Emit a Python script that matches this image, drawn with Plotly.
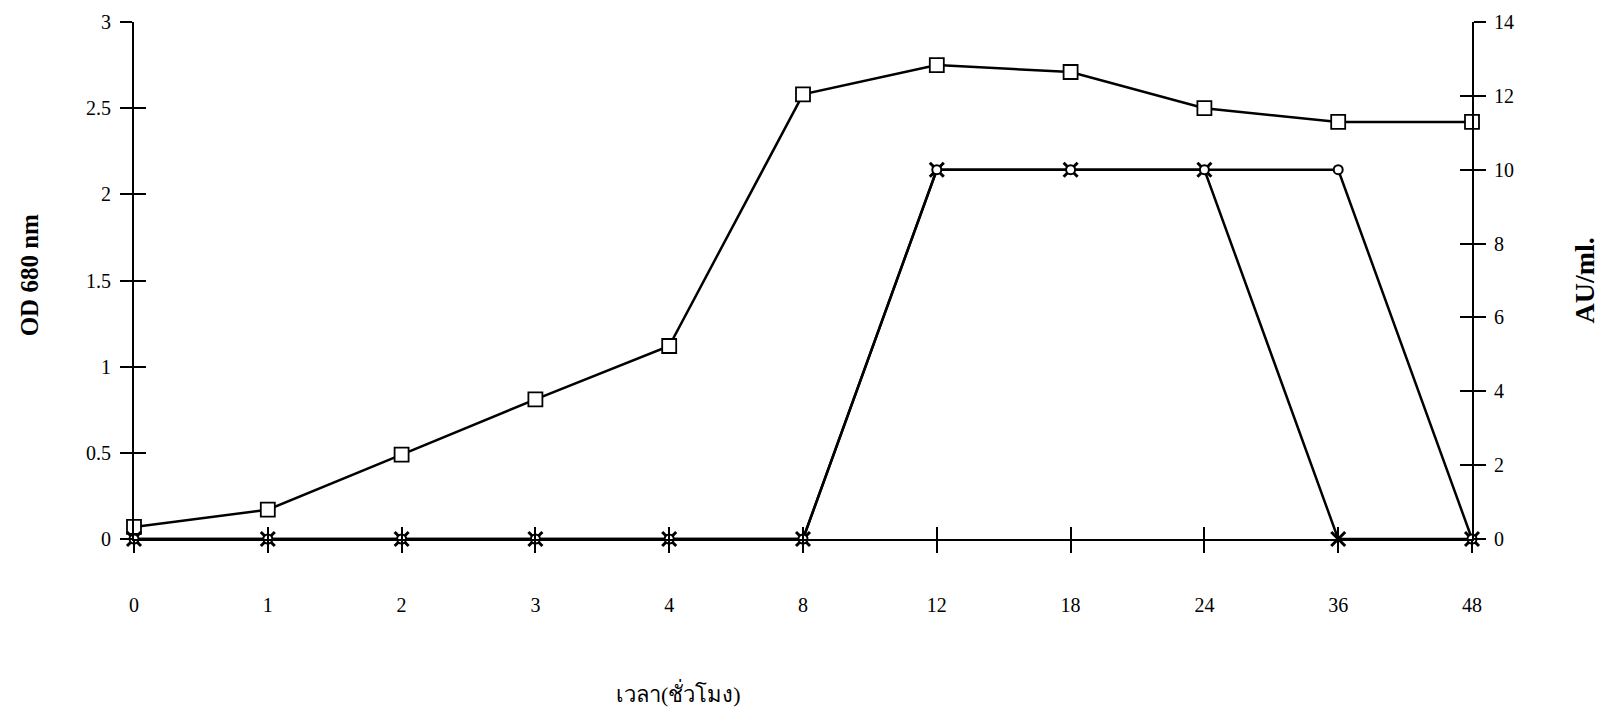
import plotly.graph_objects as go

# ---- data ----
hours = ["0", "1", "2", "3", "4", "8", "12", "18", "24", "36", "48"]
od680 = [0.07, 0.17, 0.49, 0.81, 1.12, 2.58, 2.75, 2.71, 2.50, 2.42, 2.42]
au_a = [0, 0, 0, 0, 0, 0, 10, 10, 10, 0, 0]
au_b = [0, 0, 0, 0, 0, 0, 10, 10, 10, 10, 0]
left_ticks = [0, 0.5, 1, 1.5, 2, 2.5, 3]
right_ticks = [0, 2, 4, 6, 8, 10, 12, 14]

SERIF = "Liberation Serif, Times New Roman, serif"
THAI = "Liberation Serif, Noto Sans, DejaVu Sans, sans-serif"
BLACK = "#000000"

fig = go.Figure()

fig.add_trace(go.Scatter(
    x=hours, y=au_a, yaxis="y2", mode="lines+markers",
    line=dict(color=BLACK, width=2.5),
    marker=dict(symbol="x-thin", size=14, line=dict(color=BLACK, width=3)),
    cliponaxis=False, showlegend=False))
fig.add_trace(go.Scatter(
    x=hours, y=au_b, yaxis="y2", mode="lines+markers",
    line=dict(color=BLACK, width=2.5),
    marker=dict(symbol="circle", size=9, color="white", line=dict(color=BLACK, width=2)),
    cliponaxis=False, showlegend=False))
fig.add_trace(go.Scatter(
    x=hours, y=od680, yaxis="y", mode="lines+markers",
    line=dict(color=BLACK, width=2.5),
    marker=dict(symbol="square", size=14, color="white", line=dict(color=BLACK, width=1.8)),
    cliponaxis=False, showlegend=False))

# empty helper traces so that the overlay axes (inner half of crossing ticks) are drawn
fig.add_trace(go.Scatter(x=[], y=[], xaxis="x3", yaxis="y3", showlegend=False, hoverinfo="skip"))
fig.add_trace(go.Scatter(x=[], y=[], xaxis="x3", yaxis="y4", showlegend=False, hoverinfo="skip"))

n = len(hours) - 1
TICK = dict(ticklen=12, tickwidth=1.6, tickcolor=BLACK)
fig.update_layout(
    width=1599, height=710,
    margin=dict(l=134, r=127, t=11, b=171),
    paper_bgcolor="white", plot_bgcolor="white",
    font=dict(family=SERIF, color=BLACK, size=20),
    xaxis=dict(
        type="category", categoryorder="array", categoryarray=hours,
        range=[0, n], showgrid=False, zeroline=False,
        showline=True, linecolor=BLACK, linewidth=2,
        ticks="outside", **TICK,
        ticklabelstandoff=35, tickfont=dict(size=20, family=SERIF),
    ),
    xaxis3=dict(
        overlaying="x", anchor="y", type="linear", range=[0, n],
        tickvals=list(range(n + 1)),
        showgrid=False, zeroline=False, showline=False,
        ticks="inside", **TICK, showticklabels=False,
    ),
    yaxis=dict(
        range=[0, 3], tickvals=left_ticks, showgrid=False, zeroline=False,
        showline=True, linecolor=BLACK, linewidth=2,
        ticks="outside", **TICK,
        ticklabelstandoff=5, tickfont=dict(size=20, family=SERIF),
    ),
    yaxis3=dict(
        overlaying="y", anchor="x3", side="left", range=[0, 3], tickvals=left_ticks,
        showgrid=False, zeroline=False, showline=False,
        ticks="inside", **TICK, showticklabels=False,
    ),
    yaxis2=dict(
        overlaying="y", side="right", anchor="x", range=[0, 14], tickvals=right_ticks,
        showgrid=False, zeroline=False,
        showline=True, linecolor=BLACK, linewidth=2,
        ticks="outside", **TICK,
        ticklabelstandoff=4, tickfont=dict(size=20, family=SERIF),
    ),
    yaxis4=dict(
        overlaying="y", side="right", anchor="x3", range=[0, 14], tickvals=right_ticks,
        showgrid=False, zeroline=False, showline=False,
        ticks="inside", **TICK, showticklabels=False,
    ),
    annotations=[
        dict(text="<b>OD 680 nm</b>", textangle=-90, xref="paper", yref="paper",
             x=0, y=0.51, xanchor="center", yanchor="middle", xshift=-105,
             showarrow=False, font=dict(size=25, family=SERIF)),
        dict(text="<b>AU/ml.</b>", textangle=-90, xref="paper", yref="paper",
             x=1, y=0.50, xanchor="center", yanchor="middle", xshift=112,
             showarrow=False, font=dict(size=28, family=SERIF)),
        dict(text="เวลา(ชั่วโมง)", xref="paper", yref="paper",
             x=0.4066, y=0, xanchor="center", yanchor="middle", yshift=-154,
             showarrow=False, font=dict(size=22, family=THAI)),
    ],
)

fig.write_html("out.html", config={"displayModeBar": False},
               post_script="document.body.style.margin='0';document.body.style.overflow='hidden';")
